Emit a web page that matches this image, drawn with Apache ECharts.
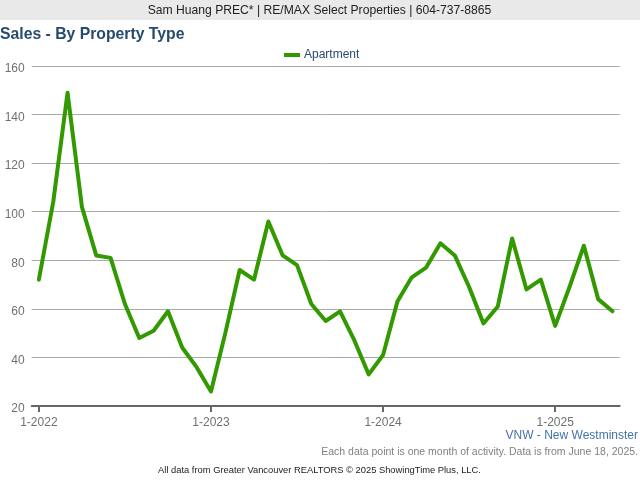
<!DOCTYPE html>
<html>
<head>
<meta charset="utf-8">
<style>
  html, body { margin: 0; padding: 0; background: #fff; }
  #chart { width: 640px; height: 480px; }
</style>
<script src="https://cdn.jsdelivr.net/npm/echarts@6/dist/echarts.min.js"></script>
</head>
<body>
<div id="chart"></div>
<script>
const FONT = '"Liberation Sans", Arial, sans-serif'

const months = [
  '1-2022','2-2022','3-2022','4-2022','5-2022','6-2022','7-2022','8-2022','9-2022','10-2022','11-2022','12-2022',
  '1-2023','2-2023','3-2023','4-2023','5-2023','6-2023','7-2023','8-2023','9-2023','10-2023','11-2023','12-2023',
  '1-2024','2-2024','3-2024','4-2024','5-2024','6-2024','7-2024','8-2024','9-2024','10-2024','11-2024','12-2024',
  '1-2025','2-2025','3-2025','4-2025','5-2025'
]
const apartment = [
  72, 104, 149, 102, 82, 81, 62, 48, 51, 59, 44, 36,
  26, 50, 76, 72, 96, 82, 78, 62, 55, 59, 47, 33,
  41, 63, 73, 77, 87, 82, 69, 54, 61, 89, 68, 72,
  53, 69, 86, 64, 59
]

const chart = echarts.init(document.getElementById('chart'), null, { renderer: 'canvas' })

chart.setOption({
  animation: false,
  backgroundColor: '#fff',
  textStyle: { fontFamily: FONT },
  graphic: [
    // grey banner behind the agent line
    { type: 'rect', z: 0, shape: { x: 0, y: 0, width: 640, height: 20 }, style: { fill: '#e9e9e9' } }
  ],
  title: [
    {
      text: 'Sam Huang PREC* | RE/MAX Select Properties | 604-737-8865',
      left: 319.5, top: 5, textAlign: 'center', padding: 0,
      textStyle: { fontFamily: FONT, fontSize: 12.15, fontWeight: 'normal', color: '#222' }
    },
    {
      text: 'Sales - By Property Type',
      left: 0, top: 27, padding: 0,
      textStyle: { fontFamily: FONT, fontSize: 15.75, fontWeight: 'bold', color: '#274b6d' }
    },
    {
      text: 'VNW - New Westminster',
      right: 2, top: 430, padding: 0,
      textStyle: { fontFamily: FONT, fontSize: 12, fontWeight: 'normal', color: '#4572a7' }
    },
    {
      text: 'Each data point is one month of activity. Data is from June 18, 2025.',
      right: 2, top: 447, padding: 0,
      textStyle: { fontFamily: FONT, fontSize: 10.5, fontWeight: 'normal', color: '#808080' }
    },
    {
      text: 'All data from Greater Vancouver REALTORS © 2025 ShowingTime Plus, LLC.',
      left: 319.5, top: 466, textAlign: 'center', padding: 0,
      textStyle: { fontFamily: FONT, fontSize: 9.35, fontWeight: 'normal', color: '#222' }
    }
  ],
  legend: {
    data: ['Apartment'],
    left: 284, top: 49, padding: 0,
    icon: 'rect',
    itemWidth: 16, itemHeight: 4, itemGap: 0,
    textStyle: { fontFamily: FONT, fontSize: 12, color: '#274b6d', padding: [0, 0, 0, -1] }
  },
  grid: { left: 31.7, top: 66, width: 588, height: 340, containLabel: false },
  xAxis: {
    type: 'category',
    data: months,
    boundaryGap: true,
    axisLine: { lineStyle: { color: '#666', width: 2 } },
    axisTick: { show: true, alignWithLabel: true, interval: 11, length: 6, lineStyle: { color: '#666', width: 2 } },
    axisLabel: { interval: 11, color: '#707070', fontFamily: FONT, fontSize: 12, margin: 11 },
    splitLine: { show: false }
  },
  yAxis: {
    type: 'value',
    min: 20, max: 160, interval: 20,
    axisLine: { show: false },
    axisTick: { show: false },
    // labels sit a little below their grid line in the original
    axisLabel: { color: '#707070', fontFamily: FONT, fontSize: 12, margin: 7, verticalAlign: 'top', lineHeight: 6 },
    splitLine: { lineStyle: { color: '#aaa', width: 1 } }
  },
  series: [
    {
      name: 'Apartment',
      type: 'line',
      data: apartment,
      symbol: 'none',
      smooth: false,
      itemStyle: { color: '#339900' },
      lineStyle: { color: '#339900', width: 4, join: 'round', cap: 'round' }
    }
  ]
})
</script>
</body>
</html>
